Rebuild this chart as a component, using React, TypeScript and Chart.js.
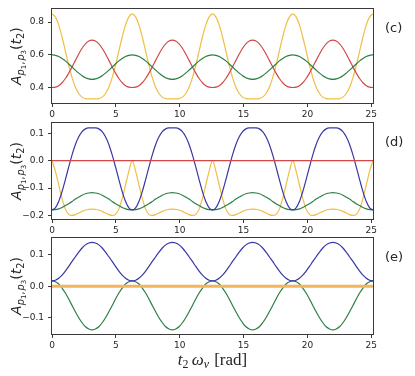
import React, { useEffect, useRef } from 'react';
import { Chart, registerables } from 'chart.js';
Chart.register(...registerables);

// t2 * omega_v sample positions [rad]
const T2 = [
  0, 0.262, 0.524, 0.785, 1.047, 1.309, 1.571, 1.833, 2.094, 2.356, 2.618, 2.880,
  3.142, 3.403, 3.665, 3.927, 4.189, 4.451, 4.712, 4.974, 5.236, 5.498, 5.760, 6.021,
  6.283, 6.545, 6.807, 7.069, 7.330, 7.592, 7.854, 8.116, 8.378, 8.639, 8.901, 9.163,
  9.425, 9.687, 9.948, 10.210, 10.472, 10.734, 10.996, 11.257, 11.519, 11.781, 12.043, 12.305,
  12.566, 12.828, 13.090, 13.352, 13.614, 13.875, 14.137, 14.399, 14.661, 14.923, 15.184, 15.446,
  15.708, 15.970, 16.232, 16.493, 16.755, 17.017, 17.279, 17.541, 17.802, 18.064, 18.326, 18.588,
  18.850, 19.111, 19.373, 19.635, 19.897, 20.159, 20.420, 20.682, 20.944, 21.206, 21.468, 21.729,
  21.991, 22.253, 22.515, 22.777, 23.038, 23.300, 23.562, 23.824, 24.086, 24.347, 24.609, 24.871,
  25.133,
];

// panel (c)
const C_YELLOW = [
  0.850, 0.832, 0.783, 0.709, 0.623, 0.536, 0.460, 0.401, 0.363, 0.341, 0.332, 0.330, 0.330, 0.330, 0.332, 0.341, 0.363, 0.401, 0.460, 0.536, 0.623, 0.709, 0.783, 0.832,
  0.850, 0.832, 0.783, 0.709, 0.623, 0.536, 0.460, 0.401, 0.363, 0.341, 0.332, 0.330, 0.330, 0.330, 0.332, 0.341, 0.363, 0.401, 0.460, 0.536, 0.623, 0.709, 0.783, 0.832,
  0.850, 0.832, 0.783, 0.709, 0.623, 0.536, 0.460, 0.401, 0.363, 0.341, 0.332, 0.330, 0.330, 0.330, 0.332, 0.341, 0.363, 0.401, 0.460, 0.536, 0.623, 0.709, 0.783, 0.832,
  0.850, 0.832, 0.783, 0.709, 0.623, 0.536, 0.460, 0.401, 0.363, 0.341, 0.332, 0.330, 0.330, 0.330, 0.332, 0.341, 0.363, 0.401, 0.460, 0.536, 0.623, 0.709, 0.783, 0.832,
  0.850,
];
const C_RED = [
  0.400, 0.402, 0.411, 0.429, 0.455, 0.488, 0.526, 0.566, 0.605, 0.640, 0.667, 0.684, 0.690, 0.684, 0.667, 0.640, 0.605, 0.566, 0.526, 0.488, 0.455, 0.429, 0.411, 0.402,
  0.400, 0.402, 0.411, 0.429, 0.455, 0.488, 0.526, 0.566, 0.605, 0.640, 0.667, 0.684, 0.690, 0.684, 0.667, 0.640, 0.605, 0.566, 0.526, 0.488, 0.455, 0.429, 0.411, 0.402,
  0.400, 0.402, 0.411, 0.429, 0.455, 0.488, 0.526, 0.566, 0.605, 0.640, 0.667, 0.684, 0.690, 0.684, 0.667, 0.640, 0.605, 0.566, 0.526, 0.488, 0.455, 0.429, 0.411, 0.402,
  0.400, 0.402, 0.411, 0.429, 0.455, 0.488, 0.526, 0.566, 0.605, 0.640, 0.667, 0.684, 0.690, 0.684, 0.667, 0.640, 0.605, 0.566, 0.526, 0.488, 0.455, 0.429, 0.411, 0.402,
  0.400,
];
const C_GREEN = [
  0.600, 0.597, 0.590, 0.578, 0.563, 0.544, 0.525, 0.506, 0.488, 0.472, 0.460, 0.453, 0.450, 0.453, 0.460, 0.472, 0.488, 0.506, 0.525, 0.544, 0.563, 0.578, 0.590, 0.597,
  0.600, 0.597, 0.590, 0.578, 0.563, 0.544, 0.525, 0.506, 0.488, 0.472, 0.460, 0.453, 0.450, 0.453, 0.460, 0.472, 0.488, 0.506, 0.525, 0.544, 0.563, 0.578, 0.590, 0.597,
  0.600, 0.597, 0.590, 0.578, 0.563, 0.544, 0.525, 0.506, 0.488, 0.472, 0.460, 0.453, 0.450, 0.453, 0.460, 0.472, 0.488, 0.506, 0.525, 0.544, 0.563, 0.578, 0.590, 0.597,
  0.600, 0.597, 0.590, 0.578, 0.563, 0.544, 0.525, 0.506, 0.488, 0.472, 0.460, 0.453, 0.450, 0.453, 0.460, 0.472, 0.488, 0.506, 0.525, 0.544, 0.563, 0.578, 0.590, 0.597,
  0.600,
];

// panel (d)
const D_BLUE = [
  -0.180, -0.172, -0.149, -0.113, -0.069, -0.023, 0.021, 0.059, 0.087, 0.106, 0.116, 0.1196, 0.1200, 0.1196, 0.116, 0.106, 0.087, 0.059, 0.021, -0.023, -0.069, -0.113, -0.149, -0.172,
  -0.180, -0.172, -0.149, -0.113, -0.069, -0.023, 0.021, 0.059, 0.087, 0.106, 0.116, 0.1196, 0.1200, 0.1196, 0.116, 0.106, 0.087, 0.059, 0.021, -0.023, -0.069, -0.113, -0.149, -0.172,
  -0.180, -0.172, -0.149, -0.113, -0.069, -0.023, 0.021, 0.059, 0.087, 0.106, 0.116, 0.1196, 0.1200, 0.1196, 0.116, 0.106, 0.087, 0.059, 0.021, -0.023, -0.069, -0.113, -0.149, -0.172,
  -0.180, -0.172, -0.149, -0.113, -0.069, -0.023, 0.021, 0.059, 0.087, 0.106, 0.116, 0.1196, 0.1200, 0.1196, 0.116, 0.106, 0.087, 0.059, 0.021, -0.023, -0.069, -0.113, -0.149, -0.172,
  -0.180,
];
const D_YELLOW = [
  0.000, -0.038, -0.088, -0.138, -0.177, -0.196, -0.200, -0.197, -0.191, -0.185, -0.180, -0.178, -0.177, -0.178, -0.180, -0.185, -0.191, -0.197, -0.200, -0.196, -0.177, -0.138, -0.088, -0.038,
  0.000, -0.038, -0.088, -0.138, -0.177, -0.196, -0.200, -0.197, -0.191, -0.185, -0.180, -0.178, -0.177, -0.178, -0.180, -0.185, -0.191, -0.197, -0.200, -0.196, -0.177, -0.138, -0.088, -0.038,
  0.000, -0.038, -0.088, -0.138, -0.177, -0.196, -0.200, -0.197, -0.191, -0.185, -0.180, -0.178, -0.177, -0.178, -0.180, -0.185, -0.191, -0.197, -0.200, -0.196, -0.177, -0.138, -0.088, -0.038,
  0.000, -0.038, -0.088, -0.138, -0.177, -0.196, -0.200, -0.197, -0.191, -0.185, -0.180, -0.178, -0.177, -0.178, -0.180, -0.185, -0.191, -0.197, -0.200, -0.196, -0.177, -0.138, -0.088, -0.038,
  0.000,
];
const D_GREEN = [
  -0.180, -0.179, -0.176, -0.171, -0.164, -0.157, -0.149, -0.140, -0.133, -0.126, -0.121, -0.118, -0.117, -0.118, -0.121, -0.126, -0.133, -0.140, -0.149, -0.157, -0.164, -0.171, -0.176, -0.179,
  -0.180, -0.179, -0.176, -0.171, -0.164, -0.157, -0.149, -0.140, -0.133, -0.126, -0.121, -0.118, -0.117, -0.118, -0.121, -0.126, -0.133, -0.140, -0.149, -0.157, -0.164, -0.171, -0.176, -0.179,
  -0.180, -0.179, -0.176, -0.171, -0.164, -0.157, -0.149, -0.140, -0.133, -0.126, -0.121, -0.118, -0.117, -0.118, -0.121, -0.126, -0.133, -0.140, -0.149, -0.157, -0.164, -0.171, -0.176, -0.179,
  -0.180, -0.179, -0.176, -0.171, -0.164, -0.157, -0.149, -0.140, -0.133, -0.126, -0.121, -0.118, -0.117, -0.118, -0.121, -0.126, -0.133, -0.140, -0.149, -0.157, -0.164, -0.171, -0.176, -0.179,
  -0.180,
];
const D_RED_T2 = [0, 25.133];
const D_RED = [0, 0];

// panel (e)
const E_BLUE = [
  0.017, 0.019, 0.025, 0.035, 0.048, 0.063, 0.079, 0.094, 0.109, 0.122, 0.132, 0.138, 0.140, 0.138, 0.132, 0.122, 0.109, 0.094, 0.079, 0.063, 0.048, 0.035, 0.025, 0.019,
  0.017, 0.019, 0.025, 0.035, 0.048, 0.063, 0.079, 0.094, 0.109, 0.122, 0.132, 0.138, 0.140, 0.138, 0.132, 0.122, 0.109, 0.094, 0.079, 0.063, 0.048, 0.035, 0.025, 0.019,
  0.017, 0.019, 0.025, 0.035, 0.048, 0.063, 0.079, 0.094, 0.109, 0.122, 0.132, 0.138, 0.140, 0.138, 0.132, 0.122, 0.109, 0.094, 0.079, 0.063, 0.048, 0.035, 0.025, 0.019,
  0.017, 0.019, 0.025, 0.035, 0.048, 0.063, 0.079, 0.094, 0.109, 0.122, 0.132, 0.138, 0.140, 0.138, 0.132, 0.122, 0.109, 0.094, 0.079, 0.063, 0.048, 0.035, 0.025, 0.019,
  0.017,
];
const E_GREEN = [
  0.017, 0.014, 0.007, -0.006, -0.022, -0.041, -0.062, -0.082, -0.101, -0.117, -0.130, -0.137, -0.140, -0.137, -0.130, -0.117, -0.101, -0.082, -0.062, -0.041, -0.022, -0.006, 0.007, 0.014,
  0.017, 0.014, 0.007, -0.006, -0.022, -0.041, -0.062, -0.082, -0.101, -0.117, -0.130, -0.137, -0.140, -0.137, -0.130, -0.117, -0.101, -0.082, -0.062, -0.041, -0.022, -0.006, 0.007, 0.014,
  0.017, 0.014, 0.007, -0.006, -0.022, -0.041, -0.062, -0.082, -0.101, -0.117, -0.130, -0.137, -0.140, -0.137, -0.130, -0.117, -0.101, -0.082, -0.062, -0.041, -0.022, -0.006, 0.007, 0.014,
  0.017, 0.014, 0.007, -0.006, -0.022, -0.041, -0.062, -0.082, -0.101, -0.117, -0.130, -0.137, -0.140, -0.137, -0.130, -0.117, -0.101, -0.082, -0.062, -0.041, -0.022, -0.006, 0.007, 0.014,
  0.017,
];
const E_YELLOW_T2 = [0, 25.133];
const E_YELLOW = [0, 0];

const X_TICKS = [0, 5, 10, 15, 20, 25];
const C_TICKS = [0.4, 0.6, 0.8];
const D_TICKS = [-0.2, -0.1, 0.0, 0.1];
const E_TICKS = [-0.1, 0.0, 0.1];
const PANEL_LABELS = ['(c)', '(d)', '(e)'];

const W = 415;
const H = 376;
const X_MAX = 25.133;

const YELLOW = '#efbf45';
const RED = '#d24848';
const GREEN = '#2e7f42';
const BLUE = '#3838a6';
const ORANGE = '#f3b45e';
const TEXT = '#262626';
const AXIS = '#3a3a3a';

type Piece = { t: string; size: number; italic?: boolean; shift?: number; family: string; gap?: number };

function drawPieces(ctx: CanvasRenderingContext2D, pieces: Piece[], cx: number, cy: number, rotate: boolean) {
  ctx.save();
  ctx.translate(cx, cy);
  if (rotate) ctx.rotate(-Math.PI / 2);
  ctx.fillStyle = TEXT;
  ctx.textAlign = 'left';
  ctx.textBaseline = 'alphabetic';
  const fontOf = (p: Piece) => `${p.italic ? 'italic ' : ''}${p.size}px ${p.family}`;
  let total = 0;
  const widths = pieces.map((p) => {
    ctx.font = fontOf(p);
    const w = ctx.measureText(p.t).width + (p.gap || 0);
    total += w;
    return w;
  });
  let x = -total / 2;
  pieces.forEach((p, i) => {
    ctx.font = fontOf(p);
    ctx.fillText(p.t, x, p.shift || 0);
    x += widths[i];
  });
  ctx.restore();
}

const SANS = '"DejaVu Sans"';
const SERIF = '"Liberation Serif"';
const B = 14;
const Y_LABEL: Piece[] = [
  { t: 'A', size: B, italic: true, family: SANS },
  { t: 'p', size: B * 0.7, italic: true, family: SANS, shift: B * 0.22 },
  { t: '1', size: B * 0.5, family: SANS, shift: B * 0.38 },
  { t: ',', size: B * 0.7, family: SANS, shift: B * 0.22, gap: B * 0.08 },
  { t: 'p', size: B * 0.7, italic: true, family: SANS, shift: B * 0.22 },
  { t: '3', size: B * 0.5, family: SANS, shift: B * 0.38 },
  { t: '(', size: B, family: SANS },
  { t: 't', size: B, italic: true, family: SANS },
  { t: '2', size: B * 0.7, family: SANS, shift: B * 0.2 },
  { t: ')', size: B, family: SANS },
];
const XS = 17;
const X_LABEL: Piece[] = [
  { t: 't', size: XS, italic: true, family: SERIF },
  { t: '2', size: XS * 0.7, family: SERIF, shift: XS * 0.2, gap: XS * 0.2 },
  { t: 'ω', size: XS, italic: true, family: SERIF },
  { t: 'v', size: XS * 0.7, italic: true, family: SERIF, shift: XS * 0.2, gap: XS * 0.3 },
  { t: '[rad]', size: XS, family: SERIF },
];

type Series = { x: number[]; y: number[]; color: string; width: number };
type Panel = {
  label: string;
  top: number;
  bottom: number;
  ymin: number;
  ymax: number;
  yticks: number[];
  series: Series[];
  xTitle: boolean;
};

const PANELS: Panel[] = [
  {
    label: PANEL_LABELS[0], top: 8, bottom: 103, ymin: 0.305, ymax: 0.878, yticks: C_TICKS, xTitle: false,
    series: [
      { x: T2, y: C_GREEN, color: GREEN, width: 1.2 },
      { x: T2, y: C_RED, color: RED, width: 1.2 },
      { x: T2, y: C_YELLOW, color: YELLOW, width: 1.2 },
    ],
  },
  {
    label: PANEL_LABELS[1], top: 123, bottom: 219, ymin: -0.213, ymax: 0.1375, yticks: D_TICKS, xTitle: false,
    series: [
      { x: D_RED_T2, y: D_RED, color: RED, width: 1.2 },
      { x: T2, y: D_BLUE, color: BLUE, width: 1.2 },
      { x: T2, y: D_GREEN, color: GREEN, width: 1.2 },
      { x: T2, y: D_YELLOW, color: YELLOW, width: 1.2 },
    ],
  },
  {
    label: PANEL_LABELS[2], top: 238, bottom: 334, ymin: -0.153, ymax: 0.154, yticks: E_TICKS, xTitle: true,
    series: [
      { x: E_YELLOW_T2, y: E_YELLOW, color: ORANGE, width: 3 },
      { x: T2, y: E_BLUE, color: BLUE, width: 1.2 },
      { x: T2, y: E_GREEN, color: GREEN, width: 1.2 },
    ],
  },
];

const fmt = (v: number) => {
  const s = Math.abs(v).toFixed(1);
  return v < -1e-9 ? '\u2212' + s : s;
};

function makeChart(canvas: HTMLCanvasElement, p: Panel) {
  const LEFT = 52;
  const RIGHT = 373;
  const XAXIS_H = 20;
  const deco = {
    id: 'deco' + p.label,
    afterDraw(chart: any) {
      const { ctx, chartArea: a } = chart;
      ctx.save();
      ctx.strokeStyle = AXIS;
      ctx.lineWidth = 1;
      ctx.strokeRect(Math.round(a.left) - 0.5, Math.round(a.top) - 0.5, Math.round(a.right - a.left) + 1, Math.round(a.bottom - a.top) + 1);
      ctx.restore();
      drawPieces(ctx, Y_LABEL, 21, (a.top + a.bottom) / 2, true);
      ctx.save();
      ctx.fillStyle = TEXT;
      ctx.font = `13px ${SANS}`;
      ctx.textAlign = 'left';
      ctx.textBaseline = 'middle';
      ctx.fillText(p.label, 385, a.top + 19.5);
      ctx.restore();
      if (p.xTitle) drawPieces(ctx, X_LABEL, (a.left + a.right) / 2, 365, false);
    },
  };
  return new Chart(canvas, {
    type: 'line',
    data: {
      datasets: p.series.map((s) => ({
        data: s.x.map((x, i) => ({ x, y: s.y[i] })),
        borderColor: s.color,
        borderWidth: s.width,
        pointRadius: 0,
        fill: false,
        cubicInterpolationMode: 'monotone' as const,
      })),
    },
    options: {
      responsive: false,
      animation: false,
      devicePixelRatio: 1,
      events: [],
      layout: { padding: { left: 0, right: W - RIGHT, top: p.top, bottom: H - p.bottom - XAXIS_H } },
      plugins: { legend: { display: false }, tooltip: { enabled: false }, title: { display: false } },
      scales: {
        x: {
          type: 'linear',
          min: 0,
          max: X_MAX,
          afterBuildTicks: (s: any) => { s.ticks = X_TICKS.map((v) => ({ value: v })); },
          afterFit: (s: any) => { s.height = XAXIS_H; },
          ticks: {
            autoSkip: false,
            maxRotation: 0,
            padding: 2,
            color: TEXT,
            font: { family: 'DejaVu Sans', size: 9 },
            callback: (v: any) => String(v),
          },
          grid: { drawOnChartArea: false, drawTicks: true, tickLength: 4, color: AXIS },
          border: { display: false },
        },
        y: {
          type: 'linear',
          min: p.ymin,
          max: p.ymax,
          afterBuildTicks: (s: any) => { s.ticks = p.yticks.map((v) => ({ value: v })); },
          afterFit: (s: any) => { s.width = LEFT; },
          ticks: {
            autoSkip: false,
            padding: 4,
            color: TEXT,
            font: { family: 'DejaVu Sans', size: 9 },
            callback: (v: any) => fmt(Number(v)),
          },
          grid: { drawOnChartArea: false, drawTicks: true, tickLength: 4, color: AXIS },
          border: { display: false },
        },
      },
    },
    plugins: [deco],
  } as any);
}

export default function App() {
  const r0 = useRef<HTMLCanvasElement>(null);
  const r1 = useRef<HTMLCanvasElement>(null);
  const r2 = useRef<HTMLCanvasElement>(null);
  useEffect(() => {
    const refs = [r0, r1, r2];
    const charts = PANELS.map((p, i) => makeChart(refs[i].current as HTMLCanvasElement, p));
    return () => charts.forEach((c) => c.destroy());
  }, []);
  const style: React.CSSProperties = { position: 'absolute', left: 0, top: 0, width: W, height: H };
  return (
    <div style={{ position: 'absolute', left: 0, top: 0, width: W, height: H, background: '#fff' }}>
      <canvas ref={r0} width={W} height={H} style={style} />
      <canvas ref={r1} width={W} height={H} style={style} />
      <canvas ref={r2} width={W} height={H} style={style} />
    </div>
  );
}
